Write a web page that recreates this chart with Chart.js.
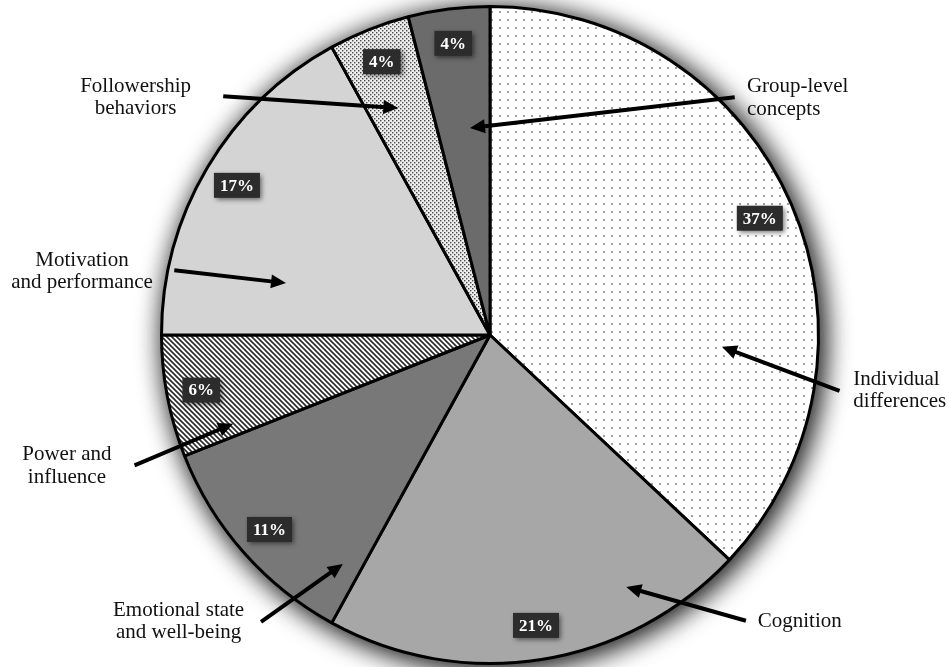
<!DOCTYPE html>
<html>
<head>
<meta charset="utf-8">
<script src="https://cdn.jsdelivr.net/npm/chart.js@4"></script>
<style>
  html, body { margin: 0; padding: 0; background: #ffffff; }
  #wrap { width: 950px; height: 667px; }
</style>
</head>
<body>
<div id="wrap"><canvas id="c" width="950" height="667"></canvas></div>
<script>
// ---------- data ----------
const categories = [
  'Individual differences',
  'Cognition',
  'Emotional state and well-being',
  'Power and influence',
  'Motivation and performance',
  'Followership behaviors',
  'Group-level concepts'
];
const shares = [37, 21, 11, 6, 17, 4, 4];
const percentLabels = ['37%', '21%', '11%', '6%', '17%', '4%', '4%'];
const calloutLines = [
  ['Individual', 'differences'],
  ['Cognition'],
  ['Emotional state', 'and well-being'],
  ['Power and', 'influence'],
  ['Motivation', 'and performance'],
  ['Followership', 'behaviors'],
  ['Group-level', 'concepts']
];

// ---------- styles / layout (in units of pie radius, relative to centre) ----------
const callouts = [
  { align: 'left',   tx: 1.106,  ty: [0.136, 0.203],  tail: [1.064, 0.170],   head: [0.706, 0.036] },
  { align: 'left',   tx: 0.815,  ty: [0.873],         tail: [0.779, 0.870],   head: [0.415, 0.767] },
  { align: 'center', tx: -0.948, ty: [0.839, 0.906],  tail: [-0.697, 0.873],  head: [-0.448, 0.697] },
  { align: 'center', tx: -1.288, ty: [0.364, 0.433],  tail: [-1.082, 0.397],  head: [-0.782, 0.270] },
  { align: 'center', tx: -1.242, ty: [-0.227, -0.161],tail: [-0.961, -0.197], head: [-0.621, -0.158] },
  { align: 'center', tx: -1.079, ty: [-0.758, -0.691],tail: [-0.812, -0.727], head: [-0.279, -0.691] },
  { align: 'left',   tx: 0.782,  ty: [-0.755, -0.688],tail: [0.745, -0.724],  head: [-0.061, -0.630] }
];

function makePattern(size, draw) {
  const c = document.createElement('canvas');
  c.width = size; c.height = size;
  const g = c.getContext('2d');
  draw(g, size);
  return document.getElementById('c').getContext('2d').createPattern(c, 'repeat');
}
const sparseDots = makePattern(8, (g, s) => {
  g.fillStyle = '#ffffff'; g.fillRect(0, 0, s, s);
  g.fillStyle = '#a0a0a0'; g.fillRect(3, 3, 2, 2);
});
const denseDots = makePattern(4, (g, s) => {
  g.fillStyle = '#eeeeee'; g.fillRect(0, 0, s, s);
  g.fillStyle = '#4a4a4a'; g.fillRect(0, 0, 1.4, 1.4); g.fillRect(2, 2, 1.4, 1.4);
});
const hatch = makePattern(5, (g, s) => {
  g.fillStyle = '#ffffff'; g.fillRect(0, 0, s, s);
  g.strokeStyle = '#2a2a2a'; g.lineWidth = 1.6;
  g.beginPath();
  g.moveTo(-1, -1); g.lineTo(s + 1, s + 1);
  g.moveTo(-1, s - 1); g.lineTo(1, s + 1);
  g.moveTo(s - 1, -1); g.lineTo(s + 1, 1);
  g.stroke();
});
const fills = [sparseDots, '#a7a7a7', '#787878', hatch, '#d4d4d4', denseDots, '#6b6b6b'];

// ---------- plugins ----------
const shadowPlugin = {
  id: 'pieShadow',
  beforeDatasetsDraw(chart) {
    const arc = chart.getDatasetMeta(0).data[0];
    if (!arc) return;
    const ctx = chart.ctx;
    ctx.save();
    ctx.shadowColor = 'rgba(0,0,0,0.7)';
    ctx.shadowBlur = 28;
    ctx.shadowOffsetX = 4;
    ctx.shadowOffsetY = 4;
    ctx.fillStyle = '#ffffff';
    ctx.beginPath();
    ctx.arc(arc.x, arc.y, arc.outerRadius, 0, Math.PI * 2);
    ctx.fill();
    ctx.fill();
    ctx.restore();
  }
};

function drawArrow(ctx, x1, y1, x2, y2) {
  const ang = Math.atan2(y2 - y1, x2 - x1);
  const hl = 15, hw = 7;
  const bx = x2 - hl * Math.cos(ang), by = y2 - hl * Math.sin(ang);
  ctx.beginPath();
  ctx.moveTo(x1, y1);
  ctx.lineTo(bx + Math.cos(ang) * 2, by + Math.sin(ang) * 2);
  ctx.lineWidth = 4;
  ctx.strokeStyle = '#000';
  ctx.stroke();
  ctx.beginPath();
  ctx.moveTo(x2, y2);
  ctx.lineTo(bx + hw * Math.sin(ang), by - hw * Math.cos(ang));
  ctx.lineTo(bx - hw * Math.sin(ang), by + hw * Math.cos(ang));
  ctx.closePath();
  ctx.fillStyle = '#000';
  ctx.fill();
}

const annotatePlugin = {
  id: 'annotate',
  afterDatasetsDraw(chart) {
    const meta = chart.getDatasetMeta(0);
    const ctx = chart.ctx;
    const first = meta.data[0];
    const cx = first.x, cy = first.y, R = first.outerRadius;

    // percent boxes
    ctx.save();
    ctx.font = 'bold 17px "Liberation Serif", "Times New Roman", serif';
    ctx.textAlign = 'center';
    ctx.textBaseline = 'middle';
    meta.data.forEach((el, i) => {
      const mid = (el.startAngle + el.endAngle) / 2;
      const r = el.outerRadius * 0.895;
      const x = el.x + Math.cos(mid) * r;
      const y = el.y + Math.sin(mid) * r;
      const txt = percentLabels[i];
      const w = ctx.measureText(txt).width + 12;
      const h = 25;
      ctx.save();
      ctx.shadowColor = 'rgba(0,0,0,0.55)';
      ctx.shadowBlur = 5;
      ctx.shadowOffsetX = 2;
      ctx.shadowOffsetY = 2;
      ctx.fillStyle = '#2c2c2c';
      ctx.fillRect(x - w / 2, y - h / 2, w, h);
      ctx.restore();
      ctx.fillStyle = '#ffffff';
      ctx.fillText(txt, x, y + 1);
    });
    ctx.restore();

    // callouts
    ctx.save();
    callouts.forEach((c, i) => {
      drawArrow(ctx, cx + c.tail[0] * R, cy + c.tail[1] * R, cx + c.head[0] * R, cy + c.head[1] * R);
      ctx.font = '21px "Liberation Serif", "Times New Roman", serif';
      ctx.fillStyle = '#111';
      ctx.textAlign = c.align;
      ctx.textBaseline = 'middle';
      calloutLines[i].forEach((line, j) => {
        ctx.fillText(line, cx + c.tx * R, cy + c.ty[j] * R);
      });
    });
    ctx.restore();
  }
};

new Chart(document.getElementById('c'), {
  type: 'pie',
  data: {
    labels: categories,
    datasets: [{
      data: shares,
      backgroundColor: fills,
      borderColor: '#000000',
      borderWidth: 3
    }]
  },
  options: {
    responsive: false,
    animation: false,
    layout: { padding: { left: 30, right: 0, top: 5, bottom: 2 } },
    plugins: {
      legend: { display: false },
      tooltip: { enabled: false }
    }
  },
  plugins: [shadowPlugin, annotatePlugin]
});
</script>
</body>
</html>
